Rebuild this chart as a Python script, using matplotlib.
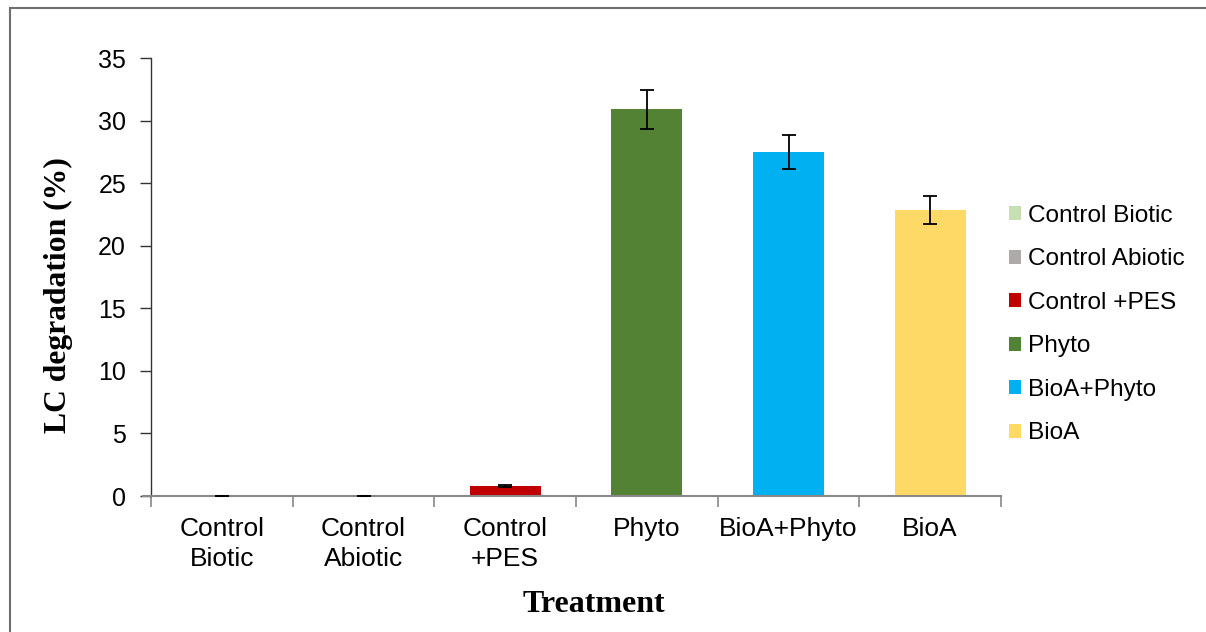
import matplotlib
matplotlib.use("Agg")
import matplotlib.pyplot as plt
from matplotlib.patches import Rectangle, Patch
import numpy as np

# Treatment groups and measured LC degradation (%)
categories = ["Control\nBiotic", "Control\nAbiotic", "Control\n+PES", "Phyto", "BioA+Phyto", "BioA"]
legend_labels = ["Control Biotic", "Control Abiotic", "Control +PES", "Phyto", "BioA+Phyto", "BioA"]
degradation = [0.02, 0.02, 0.8, 30.9, 27.5, 22.85]
errors = [0.01, 0.01, 0.05, 1.55, 1.38, 1.14]
colors = ["#C6E0B4", "#AEAAAA", "#C00000", "#548235", "#00B0F0", "#FFD966"]
y_ticks = [0, 5, 10, 15, 20, 25, 30, 35]

plt.rcParams["font.family"] = ["Liberation Sans", "DejaVu Sans"]

W, H = 1206, 632
fig = plt.figure(figsize=(W / 100, H / 100), dpi=100)
ax = fig.add_axes([151 / W, 1 - 496 / H, (1001 - 151) / W, (496 - 58) / H])

x = np.arange(len(categories))
ax.bar(x, degradation, width=0.5, color=colors, zorder=2)
ax.errorbar(x, degradation, yerr=errors, fmt="none", ecolor="black",
            elinewidth=1.3, capsize=5, capthick=1.3, zorder=3)

ax.set_xlim(-0.5, len(categories) - 0.5)
ax.set_ylim(0, 35)
ax.set_yticks(y_ticks)
ax.set_yticklabels([str(v) for v in y_ticks], fontsize=18)

# category boundaries carry the tick marks; labels sit at the centres
ax.set_xticks(np.arange(len(categories) + 1) - 0.5)
ax.set_xticklabels([])
ax.set_xticks(x, minor=True)
ax.set_xticklabels(categories, minor=True, fontsize=19, linespacing=1.35)
ax.tick_params(axis="x", which="major", direction="out", length=8, width=1.2, color="#888888")
ax.tick_params(axis="x", which="minor", length=0, pad=15)
ax.tick_params(axis="y", direction="out", length=8, width=1.0, color="#333333", pad=10)

for side in ("top", "right"):
    ax.spines[side].set_visible(False)
ax.spines["left"].set_color("#333333")
ax.spines["left"].set_linewidth(1.0)
ax.spines["bottom"].set_color("#888888")
ax.spines["bottom"].set_linewidth(1.5)
ax.spines["bottom"].set_bounds(-0.56, len(categories) - 0.5)

fig.text(58 / W, 1 - 295 / H, "LC degradation (%)", rotation=90, ha="center", va="center",
         fontsize=22.8, fontweight="bold", family=["Liberation Serif", "DejaVu Serif"])
fig.text(594 / W, 1 - 604 / H, "Treatment", ha="center", va="center",
         fontsize=23, fontweight="bold", family=["Liberation Serif", "DejaVu Serif"])

handles = [Patch(facecolor=c, edgecolor="none") for c in colors]
fig.legend(handles, legend_labels, loc="center left", bbox_to_anchor=(999 / W, 1 - 324.5 / H),
           frameon=False, fontsize=17.6, handlelength=0.5, handleheight=0.5,
           handletextpad=0.3, labelspacing=0.88, borderaxespad=0)

# outer frame around the figure
fig.patches.append(Rectangle((10 / W, -0.1), 1.2, 1 - 8 / H + 0.1, transform=fig.transFigure,
                             fill=False, edgecolor="#6f6f6f", linewidth=1.5))

fig.savefig("out.png", dpi=100, facecolor="white")
